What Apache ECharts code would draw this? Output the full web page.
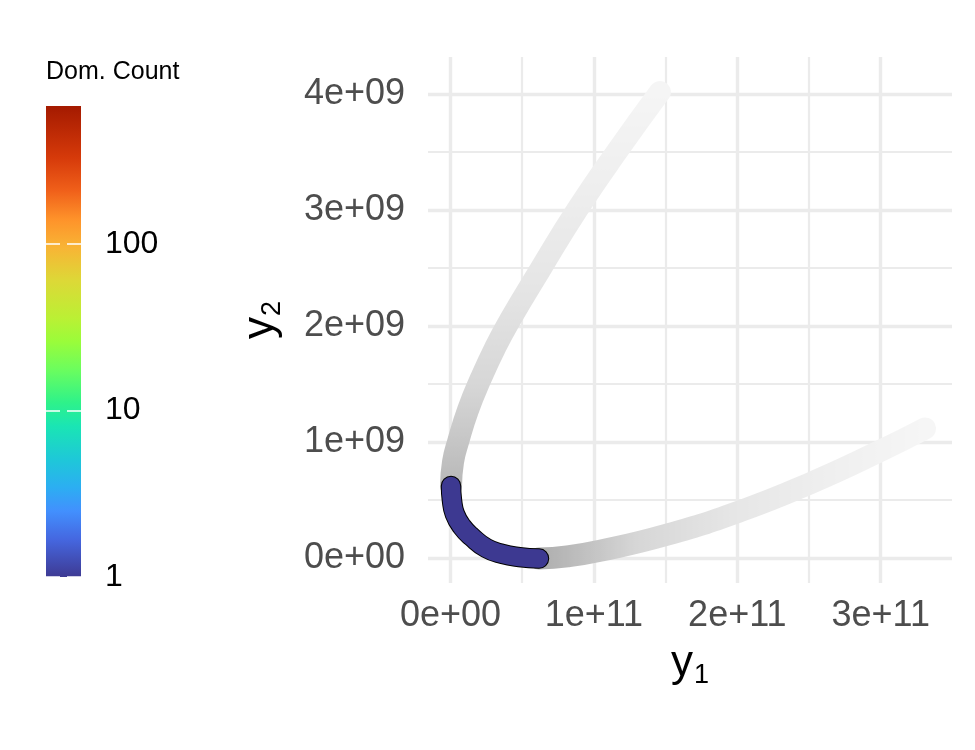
<!DOCTYPE html>
<html>
<head>
<meta charset="utf-8">
<script src="https://cdn.jsdelivr.net/npm/echarts@6/dist/echarts.min.js"></script>
<style>
  html, body { margin: 0; background: #fff; }
  #chart { width: 975px; height: 750px; }
</style>
</head>
<body>
<div id="chart"></div>
<script>
  // front points (y1, y2)
  var upperY1 = [3.5e8, 1.74e9, 5.23e9, 1.22e10, 2.13e10, 3.1e10, 4.15e10, 6.24e10, 8.82e10, 1.168e11, 1.46e11]
  var upperY2 = [6.2e8, 8.28e8, 1e9, 1.276e9, 1.552e9, 1.81e9, 2.052e9, 2.483e9, 3e9, 3.517e9, 4.017e9]
  var rightY1 = [6.17e10, 8.15e10, 1.043e11, 1.51e11, 2.019e11, 2.507e11, 2.995e11, 3.309e11]
  var rightY2 = [-5e6, 1.4e7, 6.2e7, 2.01e8, 4.03e8, 6.44e8, 9.22e8, 1.116e9]
  // dominated part, count = 1
  var domY1 = [3.5e8, 1e9, 3e9, 8e9, 1.5e10, 2.5e10, 3.6e10, 4.8e10, 6.17e10]
  var domY2 = [6.2e8, 5e8, 3.8e8, 2.7e8, 1.8e8, 8.5e7, 3.5e7, 8e6, -5e6]

  var xTicks = [0, 1e11, 2e11, 3e11]
  var yTicks = [0, 1e9, 2e9, 3e9, 4e9]
  var countTicks = [1, 10, 100]
  var countMax = 674

  var FONT = 'Liberation Sans'

  function zip(a, b) {
    return a.map(function (v, i) { return [v, b[i]] })
  }

  function sci(v) {
    if (v === 0) return '0e+00'
    var e = Math.floor(Math.log10(Math.abs(v)))
    var m = Math.round(v / Math.pow(10, e))
    var ae = Math.abs(e)
    return m + 'e' + (e < 0 ? '-' : '+') + (ae < 10 ? '0' : '') + ae
  }

  var turbo = [
    { offset: 0, color: '#3E3A93' },
    { offset: 0.08, color: '#4567E0' },
    { offset: 0.14, color: '#4290FE' },
    { offset: 0.19, color: '#2CAEF2' },
    { offset: 0.25, color: '#1EC8D8' },
    { offset: 0.32, color: '#1AE5B4' },
    { offset: 0.37, color: '#2EF28A' },
    { offset: 0.44, color: '#6BFD5E' },
    { offset: 0.5, color: '#9AFC3A' },
    { offset: 0.55, color: '#BBF034' },
    { offset: 0.63, color: '#DDD837' },
    { offset: 0.7, color: '#F8B435' },
    { offset: 0.76, color: '#FE922A' },
    { offset: 0.82, color: '#F0601A' },
    { offset: 0.89, color: '#D63A0A' },
    { offset: 1, color: '#A41A00' }
  ]

  var gridLine = { color: '#EBEBEB', width: 3.4 }
  var minorLine = { color: '#EBEBEB', width: 2.2 }
  var titleRich = {
    a: { fontFamily: FONT, fontSize: 44, color: '#000', lineHeight: 50 },
    b: { fontFamily: FONT, fontSize: 27, color: '#000', padding: [24, 0, 0, 1] }
  }

  function curve(data, width, color, z) {
    return {
      type: 'line',
      xAxisIndex: 0,
      yAxisIndex: 0,
      data: data,
      smooth: 0.5,
      showSymbol: false,
      clip: false,
      silent: true,
      z: z,
      lineStyle: { width: width, color: color, cap: 'round', join: 'round' }
    }
  }

  var chart = echarts.init(document.getElementById('chart'))
  var option = {
    animation: false,
    backgroundColor: '#fff',
    title: {
      text: 'Dom. Count',
      left: 46,
      top: 60,
      padding: 0,
      textStyle: { fontFamily: FONT, fontSize: 25, fontWeight: 'normal', color: '#000' }
    },
    grid: [
      { left: 428, right: 23, top: 57, bottom: 167, outerBoundsMode: 'none' },
      { left: 46, width: 35, top: 106, height: 471, outerBoundsMode: 'none' }
    ],
    xAxis: [
      {
        gridIndex: 0,
        type: 'value',
        min: -1.57e10,
        max: 3.497e11,
        minInterval: 1e11,
        maxInterval: 1e11,
        axisLine: { show: false },
        axisTick: { show: false },
        splitLine: { show: true, showMinLine: false, showMaxLine: false, lineStyle: gridLine },
        minorTick: { show: false, splitNumber: 2 },
        minorSplitLine: { show: true, lineStyle: minorLine },
        axisLabel: {
          customValues: xTicks,
          formatter: sci,
          fontFamily: FONT,
          fontSize: 36,
          color: '#4D4D4D',
          margin: 15
        },
        name: '{a|y}{b|1}',
        nameLocation: 'middle',
        nameGap: 55,
        nameTextStyle: { rich: titleRich }
      },
      { gridIndex: 1, type: 'category', data: ['count'], show: false }
    ],
    yAxis: [
      {
        gridIndex: 0,
        type: 'value',
        min: -2.155e8,
        max: 4.319e9,
        minInterval: 1e9,
        maxInterval: 1e9,
        axisLine: { show: false },
        axisTick: { show: false },
        splitLine: { show: true, showMinLine: false, showMaxLine: false, lineStyle: gridLine },
        minorTick: { show: false, splitNumber: 2 },
        minorSplitLine: { show: true, lineStyle: minorLine },
        axisLabel: {
          customValues: yTicks,
          formatter: sci,
          fontFamily: FONT,
          fontSize: 36,
          color: '#4D4D4D',
          margin: 23
        },
        name: '{a|y}{b|2}',
        nameLocation: 'middle',
        nameRotate: 90,
        nameGap: 142,
        nameTextStyle: { rich: titleRich }
      },
      {
        gridIndex: 1,
        type: 'log',
        min: 1,
        max: countMax,
        position: 'left',
        z: 5,
        axisLine: { show: false },
        axisTick: { show: true, inside: true, length: 14, customValues: countTicks, lineStyle: { color: '#fff', width: 1.5 } },
        axisLabel: { show: false },
        splitLine: { show: false }
      },
      {
        gridIndex: 1,
        type: 'log',
        min: 1,
        max: countMax,
        position: 'right',
        z: 5,
        axisLine: { show: false },
        axisTick: { show: true, inside: true, length: 14, customValues: countTicks, lineStyle: { color: '#fff', width: 1.5 } },
        axisLabel: {
          customValues: countTicks,
          fontFamily: FONT,
          fontSize: 32,
          color: '#000',
          margin: 24
        },
        splitLine: { show: false }
      }
    ],
    visualMap: [
      {
        show: false,
        type: 'continuous',
        seriesIndex: 0,
        dimension: 1,
        min: 6.2e8,
        max: 4.017e9,
        inRange: { color: ['#B8B8B8', '#D6D6D6', '#E5E5E5', '#EEEEEE', '#F5F5F5'] }
      },
      {
        show: false,
        type: 'continuous',
        seriesIndex: 1,
        dimension: 0,
        min: 6.17e10,
        max: 3.309e11,
        inRange: { color: ['#ADADAD', '#D6D6D6', '#E6E6E6', '#EFEFEF', '#F6F6F6'] }
      }
    ],
    series: [
      curve(zip(upperY1, upperY2), 22, null, 2),
      curve(zip(rightY1, rightY2), 22, null, 2),
      curve(zip(domY1, domY2), 20.5, '#000', 3),
      curve(zip(domY1, domY2), 18.5, '#3D3991', 4),
      {
        type: 'bar',
        xAxisIndex: 1,
        yAxisIndex: 1,
        data: [countMax],
        barWidth: '100%',
        silent: true,
        itemStyle: { color: new echarts.graphic.LinearGradient(0, 1, 0, 0, turbo) }
      }
    ]
  }
  chart.setOption(option)
</script>
</body>
</html>
